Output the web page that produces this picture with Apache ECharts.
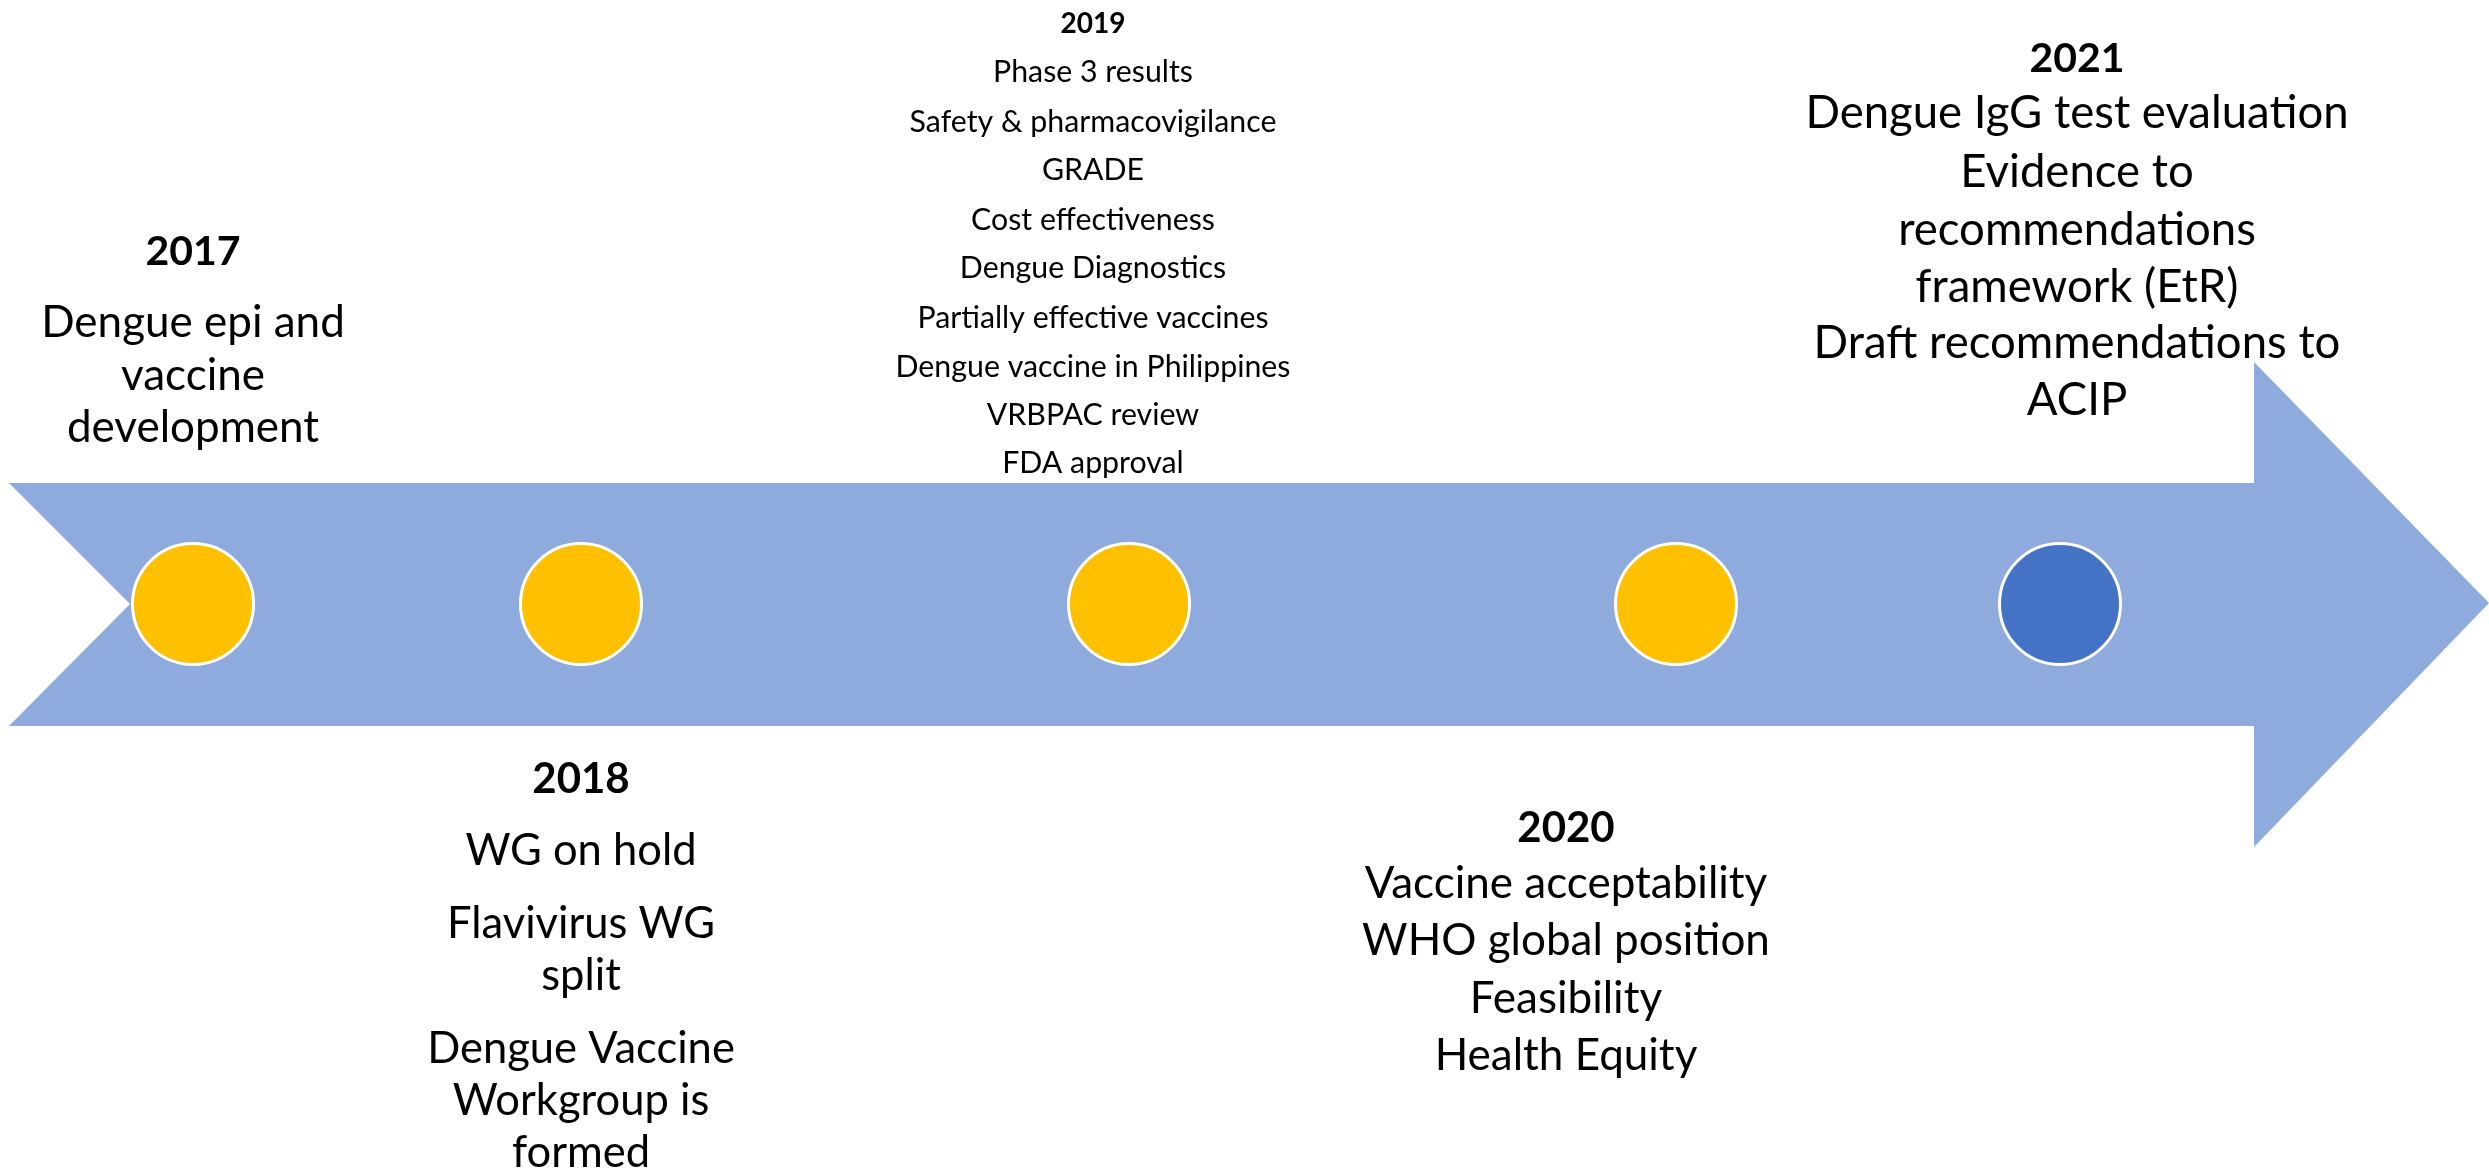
<!DOCTYPE html>
<html>
<head>
<meta charset="utf-8">
<script src="https://cdn.jsdelivr.net/npm/echarts@6/dist/echarts.min.js"></script>
<style>
  html, body { margin: 0; padding: 0; background: #fff; }
  #chart { width: 2489px; height: 1175px; }
</style>
</head>
<body>
<div id="chart"></div>
<script>
// timeline data
const years = ['2017', '2018', '2019', '2020', '2021'];
const status = ['done', 'done', 'done', 'done', 'current'];
const notes2017 = ['Dengue epi and', 'vaccine', 'development'];
const notes2018 = ['WG on hold', 'Flavivirus WG', 'split', 'Dengue Vaccine', 'Workgroup is', 'formed'];
const notes2019 = ['Phase 3 results', 'Safety & pharmacovigilance', 'GRADE', 'Cost effectiveness',
  'Dengue Diagnostics', 'Partially effective vaccines', 'Dengue vaccine in Philippines',
  'VRBPAC review', 'FDA approval'];
const notes2020 = ['Vaccine acceptability', 'WHO global position', 'Feasibility', 'Health Equity'];
const notes2021 = ['Dengue IgG test evaluation', 'Evidence to', 'recommendations',
  'framework (EtR)', 'Draft recommendations to', 'ACIP'];
const notes = [notes2017, notes2018, notes2019, notes2020, notes2021];

// layout (slide pixel units, axis = page)
const W = 2489, H = 1175;
const axisY = 604;
const dotX = [193, 581, 1129, 1676, 2060];
const arrow = [[9, 483], [2254, 483], [2254, 362], [2489, 603], [2254, 847], [2254, 726], [9, 726], [130, 604]];
const blocks = [
  { x: 193, year: 265, yearSize: 41, size: 44, lines: [337, 390, 442] },
  { x: 581, year: 793, yearSize: 42, size: 43.5, lines: [865, 938, 990, 1063, 1115, 1167] },
  { x: 1093, year: 33, yearSize: 28, size: 30.3, lines: [82, 132, 180, 230, 278, 328, 377, 425, 473] },
  { x: 1566, year: 842, yearSize: 42, size: 44, lines: [898, 955, 1013, 1070] },
  { x: 2077, year: 72, yearSize: 41, size: 45.5, lines: [128, 187, 245, 302, 358, 415] }
];
const FONT = 'Lato, "Open Sans", sans-serif';
const colors = { done: '#FFC000', current: '#4472C4' };

const chart = echarts.init(document.getElementById('chart'), null, { renderer: 'canvas' });

function textEl(api, x, base, size, weight, text) {
  const p = api.coord([x, base - 0.33 * size]);
  return {
    type: 'text',
    x: p[0], y: p[1],
    style: {
      text: text,
      fill: '#000',
      font: weight + ' ' + size + 'px ' + FONT,
      align: 'center',
      verticalAlign: 'middle'
    }
  };
}

const option = {
  animation: false,
  backgroundColor: '#fff',
  grid: { left: 0, right: 0, top: 0, bottom: 0 },
  xAxis: { type: 'value', min: 0, max: W, show: false },
  yAxis: { type: 'value', min: 0, max: H, inverse: true, show: false },
  series: [
    {
      type: 'custom',
      name: 'arrow',
      silent: true,
      data: [0],
      renderItem: function (params, api) {
        return {
          type: 'polygon',
          shape: { points: arrow.map(function (pt) { return api.coord(pt); }) },
          style: { fill: '#8FAADC' }
        };
      },
      z: 1
    },
    {
      type: 'scatter',
      name: 'milestones',
      symbol: 'circle',
      symbolSize: 121,
      data: years.map(function (y, i) { return { name: y, value: [dotX[i], axisY] }; }),
      itemStyle: {
        color: function (p) { return colors[status[p.dataIndex]]; },
        borderColor: '#fff',
        borderWidth: 3,
        opacity: 1
      },
      z: 2
    },
    {
      type: 'custom',
      name: 'notes',
      silent: true,
      data: years.map(function (y, i) { return i; }),
      renderItem: function (params, api) {
        const i = params.dataIndex;
        const b = blocks[i];
        const children = [textEl(api, b.x, b.year, b.yearSize, 'bold', years[i])];
        notes[i].forEach(function (line, k) {
          children.push(textEl(api, b.x, b.lines[k], b.size, 'normal', line));
        });
        return { type: 'group', children: children };
      },
      z: 3
    }
  ]
};

chart.setOption(option);
window.addEventListener('resize', function () { chart.resize(); });
</script>
</body>
</html>
